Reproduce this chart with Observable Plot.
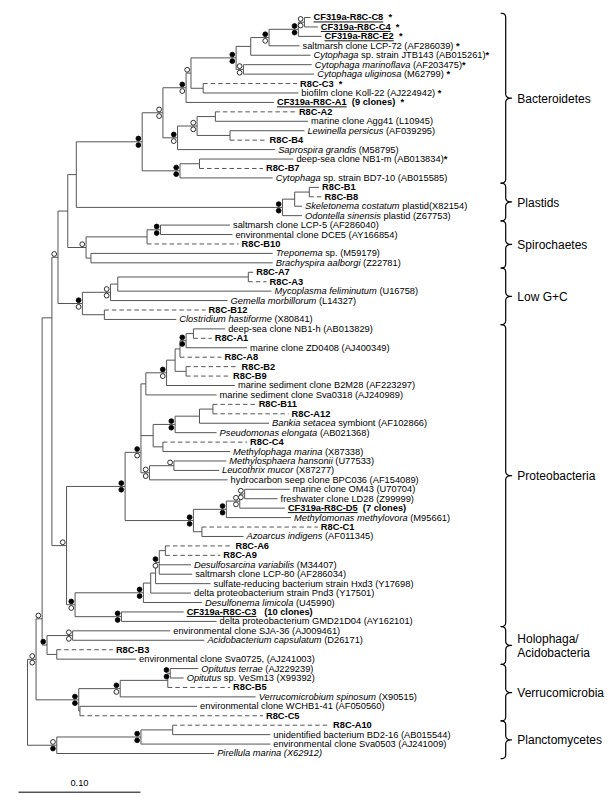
<!DOCTYPE html>
<html><head><meta charset="utf-8">
<script src="https://cdn.jsdelivr.net/npm/d3@7"></script>
<script src="https://cdn.jsdelivr.net/npm/@observablehq/plot@0.6"></script>
<style>
body{margin:0;background:#fff;}
#chart{width:612px;height:800px;}
svg text{white-space:pre;}
</style></head><body><div id="chart"></div>
<script>
// ---------- leaves (top to bottom) ----------
const leafLabel = [
"<b><u>CF319a-R8C-C8</u>  *</b>",
"<b><u>CF319a-R8C-C4</u>  *</b>",
"<b><u>CF319a-R8C-E2</u>  *</b>",
"saltmarsh clone LCP-72 (AF286039) <b>*</b>",
"<i>Cytophaga</i> sp. strain JTB143 (AB015261)<b>*</b>",
"<i>Cytophaga marinoflava</i> (AF203475)<b>*</b>",
"<i>Cytophaga uliginosa</i> (M62799) <b>*</b>",
"<b>R8C-C3  *</b>",
"biofilm clone Koll-22 (AJ224942) <b>*</b>",
"<b><u>CF319a-R8C-A1</u>  (9 clones)  *</b>",
"<b>R8C-A2</b>",
"marine clone Agg41 (L10945)",
"<i>Lewinella persicus</i> (AF039295)",
"<b>R8C-B4</b>",
"<i>Saprospira grandis</i> (M58795)",
"deep-sea clone NB1-m (AB013834)<b>*</b>",
"<b>R8C-B7</b>",
"<i>Cytophaga</i> sp. strain BD7-10 (AB015585)",
"<b>R8C-B1</b>",
"<b>R8C-B8</b>",
"<i>Skeletonema costatum</i> plastid(X82154)",
"<i>Odontella sinensis</i> plastid (Z67753)",
"saltmarsh clone LCP-5 (AF286040)",
"environmental clone DCE5 (AY166854)",
"<b>R8C-B10</b>",
"<i>Treponema</i> sp. (M59179)",
"<i>Brachyspira aalborgi</i> (Z22781)",
"<b>R8C-A7</b>",
"<b>R8C-A3</b>",
"<i>Mycoplasma feliminutum</i> (U16758)",
"<i>Gemella morbillorum</i> (L14327)",
"<b>R8C-B12</b>",
"<i>Clostridium hastiforme</i> (X80841)",
"deep-sea clone NB1-h (AB013829)",
"<b>R8C-A1</b>",
"marine clone ZD0408 (AJ400349)",
"<b>R8C-A8</b>",
"<b>R8C-B2</b>",
"<b>R8C-B9</b>",
"marine sediment clone B2M28 (AF223297)",
"marine sediment clone Sva0318 (AJ240989)",
"<b>R8C-B11</b>",
"<b>R8C-A12</b>",
"<i>Bankia setacea</i> symbiont (AF102866)",
"<i>Pseudomonas elongata</i> (AB021368)",
"<b>R8C-C4</b>",
"<i>Methylophaga marina</i> (X87338)",
"<i>Methylosphaera hansonii</i> (U77533)",
"<i>Leucothrix mucor</i> (X87277)",
"hydrocarbon seep clone BPC036 (AF154089)",
"marine clone OM43 (U70704)",
"freshwater clone LD28 (Z99999)",
"<b><u>CF319a-R8C-D5</u>  (7 clones)</b>",
"<i>Methylomonas methylovora</i> (M95661)",
"<b>R8C-C1</b>",
"<i>Azoarcus indigens</i> (AF011345)",
"<b>R8C-A6</b>",
"<b>R8C-A9</b>",
"<i>Desulfosarcina variabilis</i> (M34407)",
"saltmarsh clone LCP-80 (AF286034)",
"sulfate-reducing bacterium strain Hxd3 (Y17698)",
"delta proteobacterium strain Pnd3 (Y17501)",
"<i>Desulfonema limicola</i> (U45990)",
"<b><u>CF319a-R8C-C3</u>   (10 clones)</b>",
"delta proteobacterium GMD21D04 (AY162101)",
"environmental clone SJA-36 (AJ009461)",
"<i>Acidobacterium capsulatum</i> (D26171)",
"<b>R8C-B3</b>",
"environmental clone Sva0725, (AJ241003)",
"<i>Opitutus terrae</i> (AJ229239)",
"<i>Opitutus</i> sp. VeSm13 (X99392)",
"<b>R8C-B5</b>",
"<i>Verrucomicrobium spinosum</i> (X90515)",
"environmental clone WCHB1-41 (AF050560)",
"<b>R8C-C5</b>",
"<b>R8C-A10</b>",
"unidentified bacterium BD2-16 (AB015544)",
"environmental clone Sva0503 (AJ241009)",
"<i>Pirellula marina (X62912)</i>"
];
const leafDepth = [
0.232,0.238,0.241,0.223,0.232,0.233,0.235,0.221,0.222,0.202,
0.220,0.230,0.227,0.196,0.203,0.218,0.193,0.201,0.239,0.241,
0.225,0.225,0.166,0.168,0.173,0.201,0.201,0.185,0.196,0.200,
0.164,0.146,0.122,0.162,0.151,0.180,0.159,0.173,0.166,0.170,
0.155,0.187,0.214,0.198,0.155,0.180,0.166,0.163,0.157,0.164,
0.215,0.205,0.211,0.216,0.238,0.177,0.168,0.158,0.134,0.135,
0.150,0.134,0.143,0.128,0.155,0.117,0.145,0.070,0.089,0.140,
0.128,0.166,0.187,0.139,0.193,0.248,0.199,0.199,0.153
];
const leafParent = [
"c8c4","c8c4","e2","lcp72","b2","b3","b3","c3","c3","bA",
"a2grp","a2grp","lew","lew","sap","nb1m","nb1m","b7","b1b8","b1b8",
"pl2","pl","lcp5","lcp5","dce","tre","tre","a7a3","a7a3","a7",
"myc","clo","clo","nb1h","nb1h","zd","a8","b2b9","b2b9","b2m",
"sva","b11","b11","bank","pse","c4","c4","meth","meth","meth2",
"om","om","d5","mm","c1","c1","a6","a6","dsr","dsr",
"d3","d2","d1","c3p","c3p","sja","sja","hb3","hb3","opt",
"opt","op2","op","c5","c5","a10b","a10b","a10","pla"
];
const leafDashed = [
0,0,0,0,0,0,0,1,0,0,
1,0,0,1,0,0,1,0,0,1,
0,0,0,0,1,0,0,0,1,0,
0,1,0,0,1,0,1,1,1,0,
0,1,1,0,0,1,0,0,0,0,
0,0,0,0,1,0,1,1,0,0,
0,0,0,0,0,0,0,1,0,0,
0,1,0,0,1,1,0,0,0
];

// ---------- internal nodes ----------
const nodeId = ["root","n35","n42","n52","n59","n67","n76","bC","bB","bA","b0","b1","b2","lcp72","e2","c8c4","b3","c3","sap","a2","a2grp","lew","b7","nb1m","pl","pl2","b1b8","sp","dce","lcp5","tre","lg","myc","a7","a7a3","clo","pr","gam","g1","sva","b2m","a8b2","a8","zd","nb1h","b2b9","pc","pse","bank","b11","c4","meth2","meth","beta","mm","d5","om","c1","delta","d1","d2","d3","dsr","a6","c3p","holo","sja","hb3","ver","op","op2","opt","c5","pla","a10","a10b"];
const nodeParent = [null,"root","n35","n42","n52","n59","n67","n76","bC","bB","bA","b0","b1","b2","lcp72","e2","b1","b0","bB","sap","a2","a2","bC","b7","n76","pl","pl2","n67","sp","dce","sp","n59","lg","myc","a7","lg","n52","pr","gam","g1","sva","b2m","a8b2","a8","zd","a8b2","g1","pc","pse","bank","pc","g1","meth2","gam","beta","mm","d5","beta","pr","delta","d1","d2","d3","dsr","delta","n42","holo","holo","n35","ver","op","op2","ver","root","pla","a10"];
const nodeDepth = [0,0.007,0.012,0.020,0.025,0.033,0.040,0.094,0.111,0.130,0.134,0.171,0.183,0.198,0.222,0.227,0.177,0.144,0.123,0.139,0.154,0.166,0.125,0.141,0.209,0.219,0.231,0.048,0.098,0.109,0.052,0.045,0.068,0.074,0.181,0.063,0.032,0.080,0.093,0.097,0.114,0.121,0.125,0.130,0.136,0.130,0.103,0.121,0.141,0.152,0.111,0.100,0.120,0.136,0.163,0.174,0.178,0.143,0.039,0.095,0.101,0.105,0.108,0.113,0.077,0.016,0.037,0.024,0.042,0.076,0.115,0.117,0.043,0.024,0.093,0.119];
// bootstrap support symbols: first char = above branch, second = below (F filled, O open, - none)
const nodeBoot = ["--","OO","O-","--","O-","--","--","FF","OO","FO","O-","FF","--","FO","FF","OO","OO","--","FO","OO","--","--","FF","--","FF","--","--","O-","--","FF","--","FO","OO","--","--","--","O-","FF","FO","--","FO","--","--","FF","--","--","--","FF","--","--","--","OO","O-","FF","FF","OO","OO","--","FO","FF","--","--","FO","--","FF","F-","OO","--","FF","FO","--","FF","--","OF","FF","--"];
// nodes whose parent branch joins off-centre: fraction of the node's vertical span
const skewedNode = ["n52", "n42", "g1"];
const skewedAt = [0.21, 0.92, 0.77];

// ---------- groups ----------
const groupName = ["Bacteroidetes","Plastids","Spirochaetes","Low G+C","Proteobacteria","Holophaga/\nAcidobacteria","Verrucomicrobia","Planctomycetes"];
const groupFirst = [1,19,23,28,34,66,70,76];
const groupLast  = [18,22,27,33,65,69,75,79];

// ---------- scale bar ----------
const scaleBarLength = 0.10;
const scaleBarLabel = "0.10";

// ================= build tree geometry =================
const depthOf = new Map(), kids = new Map(), isLeaf = new Set(), dashedOf = new Map(), parentOf = new Map();
const addKid = (p, c) => { if (!kids.has(p)) kids.set(p, []); kids.get(p).push(c); };
leafLabel.forEach((l, i) => {
  const id = "leaf" + i;
  isLeaf.add(id); depthOf.set(id, leafDepth[i]); dashedOf.set(id, leafDashed[i]);
  parentOf.set(id, leafParent[i]); addKid(leafParent[i], id);
});
nodeId.forEach((id, i) => {
  depthOf.set(id, nodeDepth[i]);
  if (nodeParent[i]) { parentOf.set(id, nodeParent[i]); addKid(nodeParent[i], id); }
});
const yMemo = new Map();
function yOf(id) {
  if (yMemo.has(id)) return yMemo.get(id);
  let v;
  if (isLeaf.has(id)) v = +id.slice(4) + 1;
  else {
    const ys = kids.get(id).map(yOf), lo = Math.min(...ys), hi = Math.max(...ys);
    const k = skewedNode.indexOf(id);
    v = lo + (k >= 0 ? skewedAt[k] : 0.5) * (hi - lo);
  }
  yMemo.set(id, v); return v;
}
const solid = [], dashed = [];
for (const [id, p] of parentOf) {
  const seg = {x1: depthOf.get(p), x2: depthOf.get(id), y1: yOf(id), y2: yOf(id)};
  (dashedOf.get(id) ? dashed : solid).push(seg);
}
for (const id of nodeId) {
  const ys = kids.get(id).map(yOf);
  solid.push({x1: depthOf.get(id), x2: depthOf.get(id), y1: Math.min(...ys), y2: Math.max(...ys)});
}
const boots = [];
nodeId.forEach((id, i) => {
  const b = nodeBoot[i];
  ["top", "bottom"].forEach((pos, k) => {
    if (b[k] === "F" || b[k] === "O") boots.push({x: depthOf.get(id), y: yOf(id), pos, filled: b[k] === "F"});
  });
});
const leaves = leafLabel.map((l, i) => ({label: l, x: leafDepth[i], y: i + 1}));

// braces (curly brackets) drawn in data space
const braceBase = 0.392, braceEnd = 0.3882, braceTip = 0.3968, braceLabelX = 0.4015, rr = 0.45;
const braces = [];
function quad(g, p0, c, p1) {
  for (let k = 0; k <= 8; k++) {
    const t = k / 8, a = (1 - t) * (1 - t), b = 2 * (1 - t) * t, d = t * t;
    braces.push({g, x: a * p0[0] + b * c[0] + d * p1[0], y: a * p0[1] + b * c[1] + d * p1[1]});
  }
}
const groupLabels = [];
groupName.forEach((g, i) => {
  const ya = groupFirst[i] - 0.45, yb = groupLast[i] + 0.55, ym = (ya + yb) / 2;
  quad(g, [braceEnd, ya], [braceBase, ya], [braceBase, ya + rr]);
  quad(g, [braceBase, ym - rr], [braceBase, ym], [braceTip, ym]);
  quad(g, [braceTip, ym], [braceBase, ym], [braceBase, ym + rr]);
  quad(g, [braceBase, yb - rr], [braceBase, yb], [braceEnd, yb]);
  groupLabels.push({label: g, x: braceLabelX, y: ym});
});

const lineColor = "#555";
const font = "'Liberation Sans', Arial, Helvetica, sans-serif";
const barStart = -0.0074, barRow = 83.1;

const chart = Plot.plot({
  width: 612, height: 800, margin: 0,
  x: {domain: [0, 0.4656], range: [27, 595], axis: null},
  y: {domain: [1, 79], range: [17, 753], axis: null},
  style: {background: "#fff"},
  marks: [
    Plot.link(solid, {x1: "x1", x2: "x2", y1: "y1", y2: "y2", stroke: lineColor, strokeWidth: 1}),
    Plot.link(dashed, {x1: "x1", x2: "x2", y1: "y1", y2: "y2", stroke: lineColor, strokeWidth: 1, strokeDasharray: "4.5,3"}),
    Plot.dot(boots.filter(d => d.pos === "top"), {x: "x", y: "y", r: 2.4, dx: -3.8, dy: -3.3, fill: d => d.filled ? "black" : "white", stroke: "black", strokeWidth: 0.8}),
    Plot.dot(boots.filter(d => d.pos === "bottom"), {x: "x", y: "y", r: 2.4, dx: -3.8, dy: 3.3, fill: d => d.filled ? "black" : "white", stroke: "black", strokeWidth: 0.8}),
    Plot.text(leaves, {x: "x", y: "y", text: "label", textAnchor: "start", dx: 3, fontSize: 9.3, fontFamily: font, fill: "black", lineAnchor: "middle"}),
    Plot.line(braces, {x: "x", y: "y", z: "g", stroke: "black", strokeWidth: 1.2}),
    Plot.text(groupLabels, {x: "x", y: "y", text: "label", textAnchor: "start", fontSize: 12, fontFamily: font, fill: "black", lineHeight: 1.2, lineAnchor: "middle"}),
    Plot.link([{v: scaleBarLength}], {x1: () => barStart, x2: d => barStart + d.v, y1: () => barRow, y2: () => barRow, stroke: "black", strokeWidth: 1}),
    Plot.text([scaleBarLabel], {x: () => barStart + scaleBarLength / 2, y: () => barRow - 1.0, text: d => d, fontSize: 9.3, fontFamily: font, fill: "black"})
  ]
});

// turn <b>/<i>/<u> markup into styled tspans
function richify(t) {
  const s = t.textContent;
  if (!s.includes("<")) return;
  const parts = s.split(/(<\/?[biu]>)/);
  while (t.firstChild) t.removeChild(t.firstChild);
  let b = false, it = false, u = false;
  for (const p of parts) {
    if (!p) continue;
    const m = p.match(/^<(\/?)([biu])>$/);
    if (m) { const on = !m[1]; if (m[2] === "b") b = on; else if (m[2] === "i") it = on; else u = on; continue; }
    const ts = document.createElementNS("http://www.w3.org/2000/svg", "tspan");
    ts.textContent = p;
    if (b) ts.setAttribute("font-weight", "bold");
    if (it) ts.setAttribute("font-style", "italic");
    if (u) ts.setAttribute("text-decoration", "underline");
    t.appendChild(ts);
  }
}
chart.querySelectorAll("text").forEach(t => {
  if (t.querySelector("tspan")) t.querySelectorAll("tspan").forEach(richify);
  else richify(t);
});
document.getElementById("chart").appendChild(chart);
</script></body></html>
